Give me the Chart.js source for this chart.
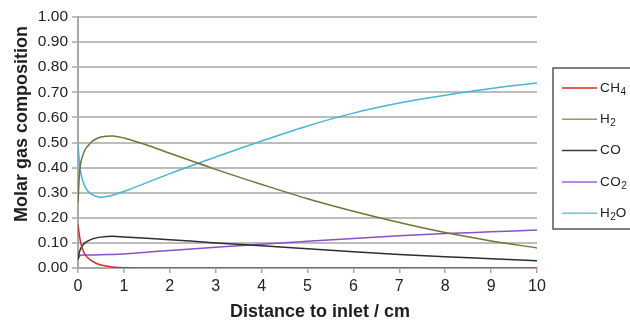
<!DOCTYPE html>
<html>
<head>
<meta charset="utf-8">
<script src="https://cdn.jsdelivr.net/npm/chart.js@4.4.1/dist/chart.umd.min.js"></script>
<style>
  html, body { margin: 0; padding: 0; background: #fff; }
  #wrap { width: 630px; height: 320px; position: relative; }
</style>
</head>
<body>
<div id="wrap"><canvas id="chartLine"></canvas></div>
<script>
// distance along the reactor (cm) and molar fraction of each gas
const distance = [0, 0.03, 0.06, 0.1, 0.15, 0.2, 0.3, 0.4, 0.5, 0.75, 1, 1.5, 2, 3, 4, 5, 6, 7, 8, 9, 10];
const ch4 = [0.172, 0.13, 0.10, 0.075, 0.055, 0.043, 0.028, 0.018, 0.012, 0.004, 0.001, 0, 0, 0, 0, 0, 0, 0, 0, 0, 0];
const h2  = [0.26, 0.37, 0.42, 0.445, 0.47, 0.483, 0.503, 0.515, 0.522, 0.526, 0.518, 0.49, 0.457, 0.393, 0.333, 0.276, 0.226, 0.181, 0.141, 0.108, 0.08];
const co  = [0.033, 0.062, 0.078, 0.09, 0.1, 0.106, 0.115, 0.12, 0.123, 0.126, 0.124, 0.119, 0.113, 0.10, 0.089, 0.077, 0.065, 0.054, 0.045, 0.037, 0.029];
const co2 = [0.033, 0.047, 0.051, 0.052, 0.052, 0.052, 0.052, 0.052, 0.053, 0.054, 0.056, 0.063, 0.07, 0.083, 0.095, 0.107, 0.118, 0.128, 0.137, 0.144, 0.151];
const h2o = [0.50, 0.42, 0.38, 0.35, 0.325, 0.31, 0.293, 0.285, 0.282, 0.29, 0.305, 0.34, 0.376, 0.442, 0.506, 0.566, 0.617, 0.657, 0.688, 0.715, 0.737];

const gasNames = ["CH4", "H2", "CO", "CO2", "H2O"];
const gasColors = ["#e32420", "#6b7637", "#2e2e2e", "#8b4fc9", "#46b5d6"];
const legendColors = ["#e32420", "#8f9c68", "#3a3a3a", "#9b63d6", "#6cc3de"];
const series = [ch4, h2, co, co2, h2o];

const xTitle = "Distance to inlet / cm";
const yTitle = "Molar gas composition";

const fontFamily = "'Liberation Sans', Arial, sans-serif";

function points(values) {
    return distance.map((d, i) => ({ x: d, y: values[i] }));
}

// draws a formula with the digits lowered as subscripts
function drawFormula(ctx, text, x, y) {
    let cx = x;
    for (const ch of text) {
        const sub = /[0-9]/.test(ch);
        ctx.font = (sub ? "10px " : "13.5px ") + fontFamily;
        ctx.fillText(ch, cx, sub ? y + 4 : y);
        cx += ctx.measureText(ch).width + (sub ? 0 : 0.5);
    }
}

// axis titles and the boxed legend on the right
const decorations = {
    id: "decorations",
    afterDraw(chart) {
        const ctx = chart.ctx;
        const area = chart.chartArea;
        ctx.save();
        ctx.fillStyle = "#1e1e1e";
        ctx.textAlign = "center";
        ctx.textBaseline = "middle";
        ctx.font = "bold 18px " + fontFamily;
        ctx.fillText(xTitle, 320, 312);
        ctx.save();
        ctx.translate(22, 124);
        ctx.rotate(-Math.PI / 2);
        ctx.font = "bold 18px " + fontFamily;
        ctx.fillText(yTitle, 0, 0);
        ctx.restore();

        const left = area.right + 16;
        const top = 68;
        ctx.textAlign = "left";
        ctx.strokeStyle = "#555";
        ctx.lineWidth = 1.5;
        ctx.strokeRect(left, top, 120, 161);
        gasNames.forEach((name, i) => {
            const y = top + 20 + i * 31.3;
            ctx.strokeStyle = legendColors[i];
            ctx.lineWidth = 1.5;
            ctx.beginPath();
            ctx.moveTo(left + 9, y);
            ctx.lineTo(left + 44, y);
            ctx.stroke();
            ctx.fillStyle = "#222";
            drawFormula(ctx, name, left + 47, y);
        });
        ctx.restore();
    }
};

const datasets = gasNames.map((name, i) => ({
    label: name,
    data: points(series[i]),
    borderColor: gasColors[i],
    backgroundColor: gasColors[i],
    borderWidth: 1.5,
    pointRadius: 0,
    cubicInterpolationMode: "monotone",
    showLine: true
}));

const config = {
    type: "scatter",
    data: { datasets },
    plugins: [decorations],
    options: {
        responsive: true,
        maintainAspectRatio: false,
        animation: false,
        layout: { padding: { top: 17, right: 93, left: 0, bottom: 0 } },
        plugins: {
            legend: { display: false },
            tooltip: { enabled: false }
        },
        scales: {
            x: {
                type: "linear",
                min: 0,
                max: 10,
                afterFit: (scale) => { scale.height = 52; },
                ticks: {
                    stepSize: 1,
                    color: "#222",
                    padding: 4,
                    font: { family: fontFamily, size: 16 }
                },
                grid: {
                    drawOnChartArea: false,
                    drawTicks: true,
                    tickLength: 5,
                    color: "#a8a8a8",
                    lineWidth: 1.5
                },
                border: { display: true, color: "#a8a8a8", width: 2 }
            },
            y: {
                min: 0,
                max: 1,
                afterFit: (scale) => { scale.width = 78; },
                ticks: {
                    stepSize: 0.1,
                    color: "#222",
                    padding: 4,
                    font: { family: fontFamily, size: 15.5 },
                    callback: (v) => v.toFixed(2)
                },
                grid: {
                    color: "#bcbcbc",
                    lineWidth: 2,
                    tickLength: 6
                },
                border: { display: true, color: "#a8a8a8", width: 2 }
            }
        }
    }
};

new Chart(document.getElementById("chartLine"), config);
</script>
</body>
</html>
